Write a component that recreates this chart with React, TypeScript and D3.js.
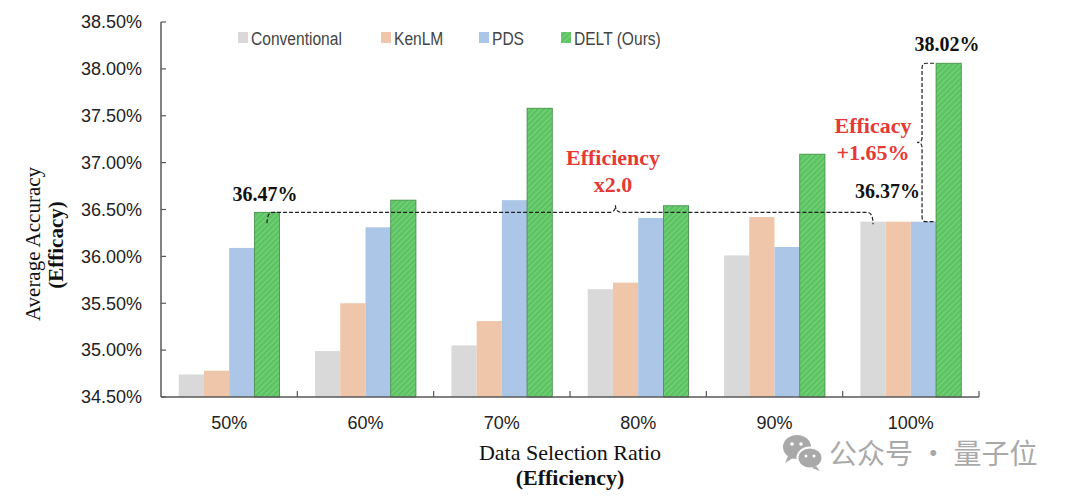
import React from 'react';
import { scaleBand, scaleLinear, range } from 'd3';

const categories = ['50%', '60%', '70%', '80%', '90%', '100%'];
const seriesNames = ['Conventional', 'KenLM', 'PDS', 'DELT (Ours)'];
const conventional = [34.74, 34.99, 35.05, 35.65, 36.01, 36.37];
const kenlm = [34.78, 35.5, 35.31, 35.72, 36.42, 36.37];
const pds = [36.09, 36.31, 36.6, 36.41, 36.1, 36.37];
const delt = [36.47, 36.6, 37.58, 36.54, 37.09, 38.06];
const yTicks = [34.5, 35.0, 35.5, 36.0, 36.5, 37.0, 37.5, 38.0, 38.5];

const colors = ['#d9d9d9', '#f0c6aa', '#abc6e6', 'url(#hatch)'];

const W = 1080;
const H = 497;
const left = 161;
const right = 979;
const top = 22;
const bottom = 397;

const serif = '"Liberation Serif", "Times New Roman", serif';
const sans = '"Liberation Sans", Arial, sans-serif';

function App() {
  const series = [conventional, kenlm, pds, delt];

  const x = scaleBand<string>()
    .domain(categories)
    .range([left, right])
    .paddingInner(0.26)
    .paddingOuter(0.13);
  const inner = scaleBand<number>()
    .domain(range(seriesNames.length))
    .range([0, x.bandwidth()]);
  const y = scaleLinear().domain([34.5, 38.5]).range([bottom, top]);

  const step = x.step();
  const bw = inner.bandwidth();

  // annotation anchors from the data
  const x0 = (x('50%') as number) + (inner(3) as number) + bw / 2;
  const x1 = (x('100%') as number) + (inner(0) as number) + bw / 2;
  const yA = y(delt[0]);
  const yB = y(conventional[5]);
  const xm = x0 + (x1 - x0) * 0.575;
  const bx = (x('100%') as number) + (inner(3) as number) - 14;
  const yTop = y(delt[5]);
  const ymid = (yTop + yB) / 2;
  const dash = '4,2';

  const hBrace = `M${x0},${yA + 11} Q${x0},${yA} ${x0 + 6},${yA} L${xm - 6},${yA} Q${xm},${yA} ${xm},${yA - 7} Q${xm},${yA} ${xm + 6},${yA} L${x1 - 6},${yA} Q${x1},${yA} ${x1},${yA + 12}`;
  const vBrace = `M${bx + 12},${yTop} L${bx + 4},${yTop} Q${bx},${yTop} ${bx},${yTop + 5} L${bx},${ymid - 5} Q${bx},${ymid} ${bx - 5},${ymid} Q${bx},${ymid} ${bx},${ymid + 5} L${bx},${yB - 5} Q${bx},${yB} ${bx + 4},${yB} L${bx + 12},${yB}`;

  const legendX = [238, 381, 479, 561];

  return (
    <svg
      width={W}
      height={H}
      style={{ position: 'absolute', left: 0, top: 0, background: '#fff' }}
    >
      <defs>
        <pattern id="hatch" width="4" height="4" patternUnits="userSpaceOnUse" patternTransform="rotate(45)">
          <rect width="4" height="4" fill="#5cc462" />
          <line x1="0" y1="0" x2="0" y2="4" stroke="#8ad98d" strokeWidth="1.4" />
        </pattern>
      </defs>

      {/* bars */}
      {categories.map((c, i) => (
        <g key={c} transform={`translate(${x(c)},0)`}>
          {series.map((s, j) => (
            <rect
              key={j}
              x={inner(j)}
              y={y(s[i])}
              width={bw}
              height={bottom - y(s[i])}
              fill={colors[j]}
              stroke={j === 3 ? '#3f8a43' : 'none'}
              strokeWidth={j === 3 ? 0.8 : 0}
            />
          ))}
        </g>
      ))}

      {/* axes */}
      <line x1={left} x2={left} y1={top} y2={bottom} stroke="#595959" strokeWidth={1.5} />
      <line x1={left} x2={right} y1={bottom} y2={bottom} stroke="#595959" strokeWidth={1.5} />
      {yTicks.map((t) => (
        <g key={t}>
          <line x1={left} x2={left + 5} y1={y(t)} y2={y(t)} stroke="#595959" strokeWidth={1.2} />
          <text x={142} y={y(t)} dy="0.35em" textAnchor="end" fontFamily={sans} fontSize={18} fill="#222">
            {t.toFixed(2)}%
          </text>
        </g>
      ))}
      {range(1, categories.length + 1).map((k) => (
        <line key={k} x1={left + k * step} x2={left + k * step} y1={bottom} y2={bottom - 6} stroke="#595959" strokeWidth={1.2} />
      ))}
      {categories.map((c) => (
        <text key={c} x={(x(c) as number) + x.bandwidth() / 2} y={429} textAnchor="middle" fontFamily={sans} fontSize={18} fill="#222">
          {c}
        </text>
      ))}

      {/* axis titles */}
      <text x={(left + right) / 2} y={460} textAnchor="middle" fontFamily={serif} fontSize={22} fill="#111">
        Data Selection Ratio
      </text>
      <text x={(left + right) / 2} y={485} textAnchor="middle" fontFamily={serif} fontSize={22} fontWeight="bold" fill="#111">
        (Efficiency)
      </text>
      <text transform="translate(40,244) rotate(-90)" textAnchor="middle" fontFamily={serif} fontSize={21} fill="#111">
        Average Accuracy
      </text>
      <text transform="translate(63,245) rotate(-90)" textAnchor="middle" fontFamily={serif} fontSize={21} fontWeight="bold" fill="#111">
        (Efficacy)
      </text>

      {/* legend */}
      {seriesNames.map((n, j) => (
        <g key={n}>
          <rect x={legendX[j]} y={32} width={10} height={11} fill={colors[j]} />
          <text
            transform={`translate(${legendX[j] + 13},38) scale(0.82,1)`}
            dy="0.35em"
            fontFamily={sans}
            fontSize={19}
            fill="#444"
          >
            {n}
          </text>
        </g>
      ))}

      {/* annotations */}
      <path d={hBrace} fill="none" stroke="#222" strokeWidth={1.2} strokeDasharray={dash} />
      <path d={vBrace} fill="none" stroke="#222" strokeWidth={1.2} strokeDasharray={dash} />
      <text x={265} y={201} textAnchor="middle" fontFamily={serif} fontSize={20} fontWeight="bold" fill="#111">
        36.47%
      </text>
      <text x={920} y={198} textAnchor="end" fontFamily={serif} fontSize={20} fontWeight="bold" fill="#111">
        36.37%
      </text>
      <text x={947} y={51} textAnchor="middle" fontFamily={serif} fontSize={20} fontWeight="bold" fill="#111">
        38.02%
      </text>
      <text x={613} y={165} textAnchor="middle" fontFamily={serif} fontSize={22} fontWeight="bold" fill="#e53935">
        Efficiency
      </text>
      <text x={613} y={192} textAnchor="middle" fontFamily={serif} fontSize={22} fontWeight="bold" fill="#e53935">
        x2.0
      </text>
      <text x={873} y={133} textAnchor="middle" fontFamily={serif} fontSize={22} fontWeight="bold" fill="#e53935">
        Efficacy
      </text>
      <text x={873} y={160} textAnchor="middle" fontFamily={serif} fontSize={22} fontWeight="bold" fill="#e53935">
        +1.65%
      </text>

      {/* watermark */}
      <g fill="#a9a9a9">
        <ellipse cx={797} cy={447} rx={14} ry={12} />
        <path d="M788,456 L785,463 L793,458 Z" />
        <ellipse cx={810} cy={458} rx={12.5} ry={10.5} stroke="#fff" strokeWidth={2} />
        <path d="M816,466 L820,471 L812,468 Z" />
        <circle cx={792} cy={444} r={1.8} fill="#fff" />
        <circle cx={801} cy={444} r={1.8} fill="#fff" />
        <circle cx={806} cy={456} r={1.5} fill="#fff" />
        <circle cx={814} cy={456} r={1.5} fill="#fff" />
        <text x={829} y={454} dy="0.35em" fontFamily='"Noto Sans CJK SC", sans-serif' fontSize={28}>
          公众号 · 量子位
        </text>
      </g>
    </svg>
  );
}

export default App;
